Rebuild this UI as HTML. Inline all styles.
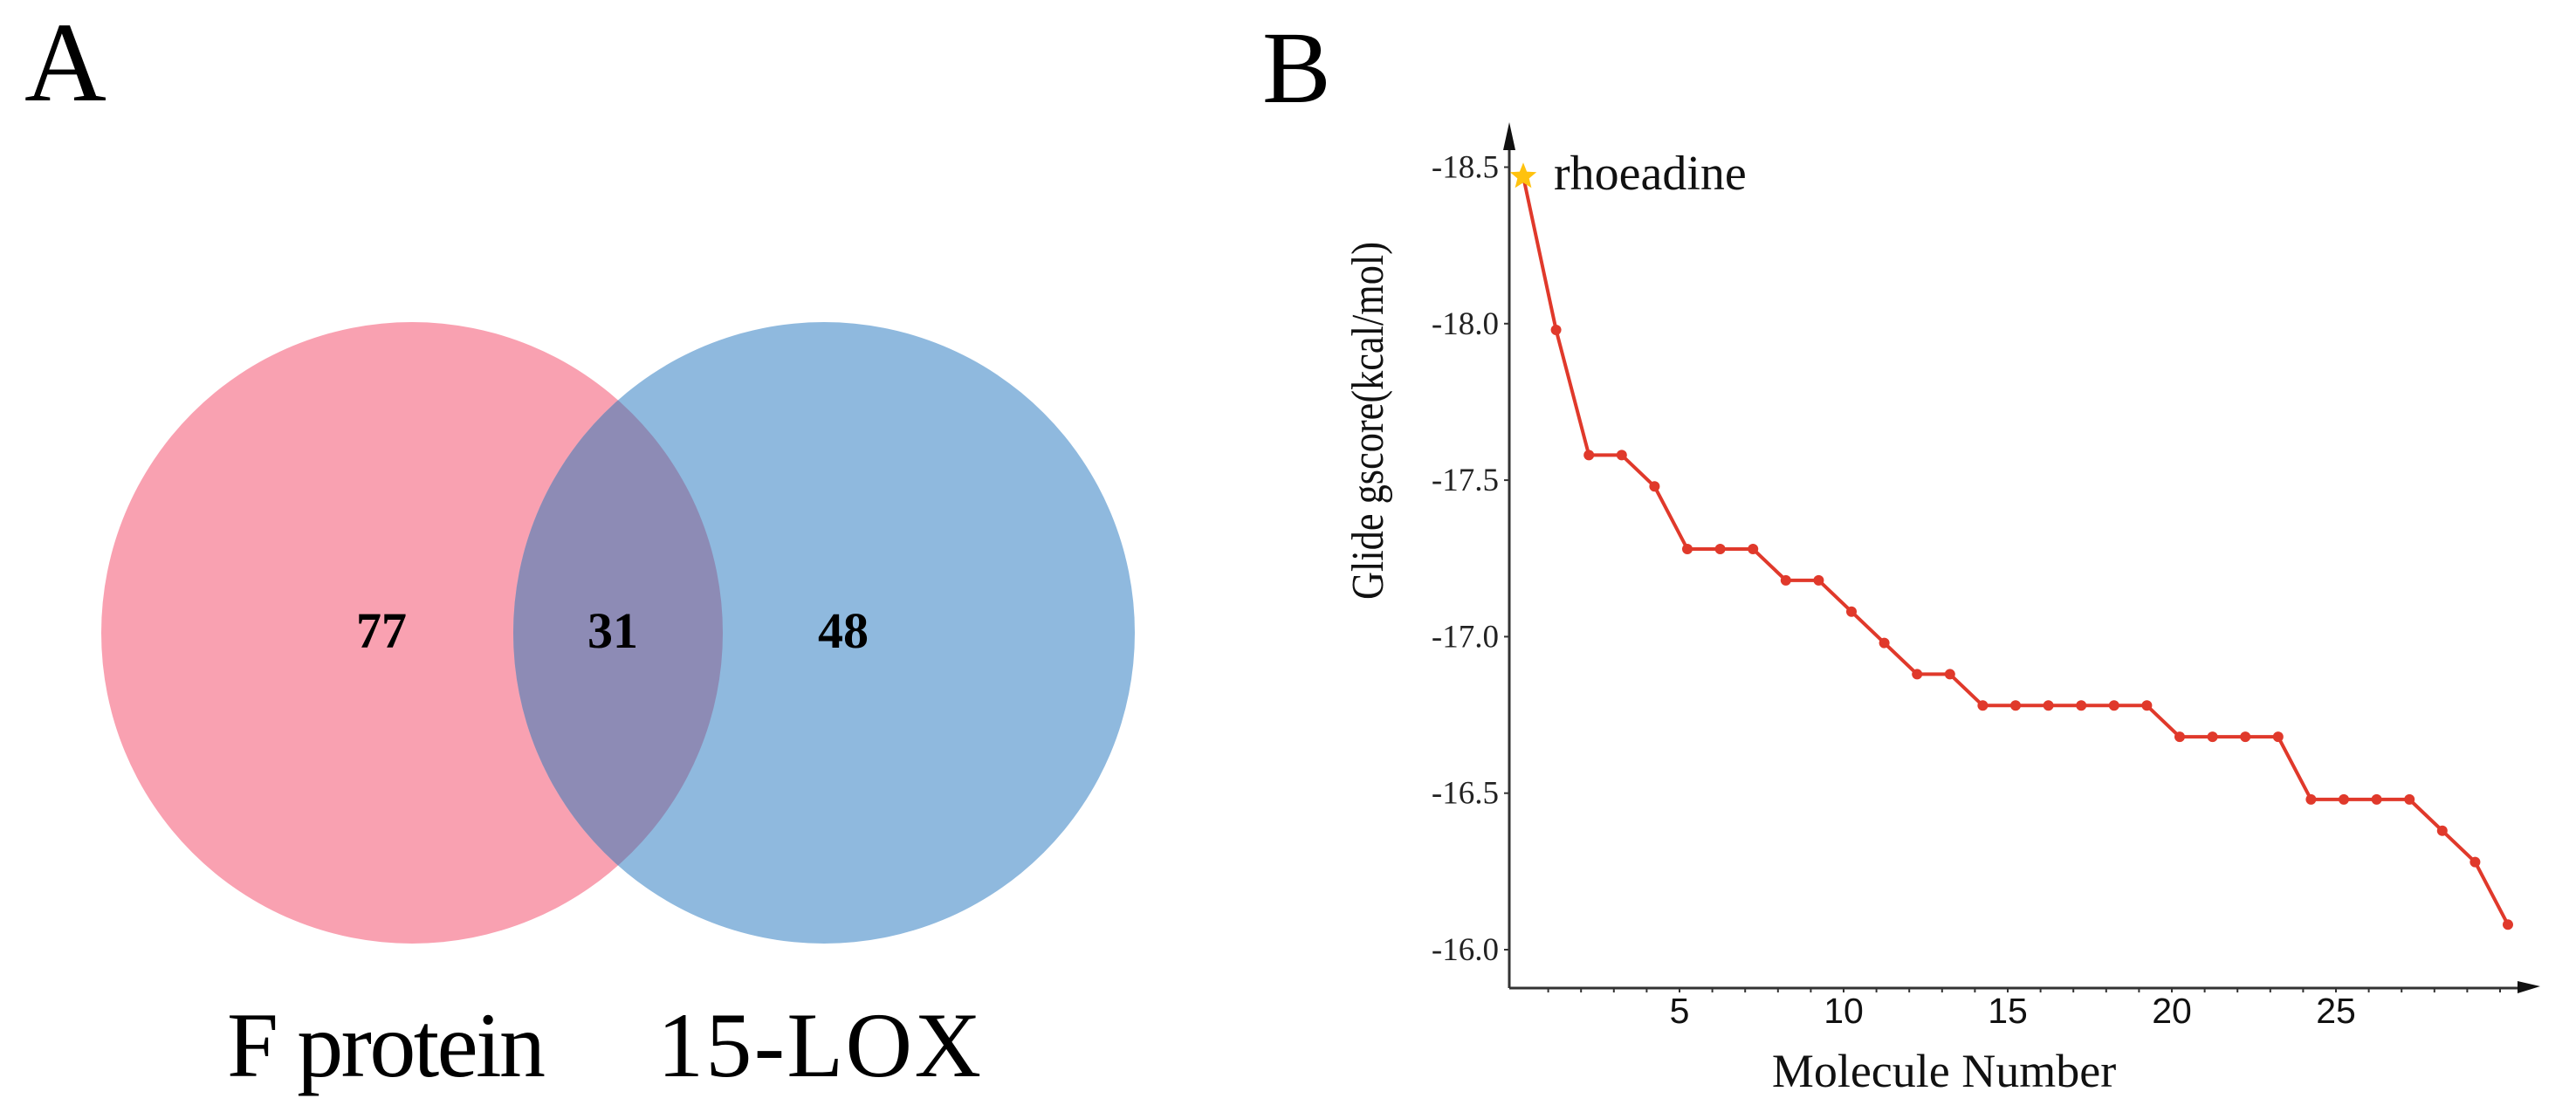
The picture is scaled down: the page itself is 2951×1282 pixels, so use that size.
<!DOCTYPE html>
<html><head><meta charset="utf-8"><style>
html,body{margin:0;padding:0;background:#fff;}
svg{display:block;}
</style></head><body>
<svg id="fig" width="2951" height="1282" viewBox="0 0 2951 1282" xmlns="http://www.w3.org/2000/svg">
  <g>
    <text x="28" y="115" font-family="Liberation Serif, serif" font-size="130">A</text>
    <defs><clipPath id="clipL"><circle cx="472" cy="725" r="356"/></clipPath></defs>
    <circle cx="472" cy="725" r="356" fill="#F9A1B1"/>
    <circle cx="944" cy="725" r="356" fill="#8FB9DE"/>
    <circle cx="944" cy="725" r="356" fill="#8D8BB5" clip-path="url(#clipL)"/>
    <g font-family="Liberation Serif, serif" font-weight="bold" font-size="58" text-anchor="middle">
      <text x="437" y="742">77</text>
      <text x="702" y="742">31</text>
      <text x="966" y="742">48</text>
    </g>
    <g font-family="Liberation Serif, serif" font-size="106">
      <text x="260" y="1233" textLength="365">F protein</text>
      <text x="753" y="1233" textLength="371">15-LOX</text>
    </g>
  </g>
  <g id="panelB">
    <text x="1446" y="117" font-family="Liberation Serif, serif" font-size="118">B</text>
  </g>
</svg>
<script>
const scores = [-18.47,-17.98,-17.58,-17.58,-17.48,-17.28,-17.28,-17.28,-17.18,-17.18,-17.08,-16.98,-16.88,-16.88,-16.78,-16.78,-16.78,-16.78,-16.78,-16.78,-16.68,-16.68,-16.68,-16.68,-16.48,-16.48,-16.48,-16.48,-16.38,-16.28,-16.08];
const yTicks = [-18.5,-18.0,-17.5,-17.0,-16.5,-16.0];
const yTickLabels = ["-18.5","-18.0","-17.5","-17.0","-16.5","-16.0"];
const xTicks = [5,10,15,20,25];
const highlightLabel = "rhoeadine";

const NS = "http://www.w3.org/2000/svg";
const g = document.getElementById('panelB');
const AX = 1729, AY = 1132;
function yScale(v){ return 1088 - (-16 - v) * 358.6; }
function xPoint(i){ return 1745 + 37.6 * i; }
function xTick(k){ return 1736 + 37.6 * k; }
function mk(tag, attrs){ const e = document.createElementNS(NS, tag); for (const k in attrs) e.setAttribute(k, attrs[k]); g.appendChild(e); return e; }

let e;
e = mk('line',{x1:AX,y1:AY,x2:AX,y2:160,stroke:'#333','stroke-width':3});


e = mk('polygon',{points:`${AX-7},172 ${AX+7},172 ${AX},140`,fill:'#111'});


e = mk('line',{x1:AX,y1:AY,x2:2895,y2:AY,stroke:'#333','stroke-width':3});


e = mk('polygon',{points:`2884,${AY-8} 2884,${AY+6} 2910,${AY-2}`,fill:'#111'});



yTicks.forEach((v,i)=>{
  const y = yScale(v);
  let t = mk('line',{x1:AX-6,y1:y,x2:AX,y2:y,stroke:'#333','stroke-width':2});
  
  
  let l = mk('text',{x:1717,y:y+12,'text-anchor':'end','font-family':'Liberation Serif, serif','font-size':37,fill:'#222'});
  l.textContent = yTickLabels[i];
  
  
});
for (let k=1;k<=30;k++){
  const x = xTick(k);
  let t = mk('line',{x1:x,y1:AY,x2:x,y2:AY+5,stroke:'#333','stroke-width':2});
  
  
}
xTicks.forEach(k=>{
  let l = mk('text',{x:xTick(k),y:1172,'text-anchor':'middle','font-family':'Liberation Sans, sans-serif','font-size':41,fill:'#111'});
  l.textContent = String(k);
  
  
});

let xt = mk('text',{x:2227,y:1245,'text-anchor':'middle','font-family':'Liberation Serif, serif','font-size':54,fill:'#111'});
xt.textContent = 'Molecule Number';


let yt = mk('text',{x:0,y:0,'text-anchor':'middle','font-family':'Liberation Serif, serif','font-size':52,fill:'#111',transform:'translate(1584,482) rotate(-90)',textLength:410,lengthAdjust:'spacingAndGlyphs'});
yt.textContent = 'Glide gscore(kcal/mol)';



const pts = scores.map((v,i)=>xPoint(i)+','+yScale(v)).join(' ');
let line = mk('polyline',{points:pts,fill:'none',stroke:'#E0392B','stroke-width':4,'stroke-linejoin':'round'});


scores.forEach((v,i)=>{
  if (i===0) return;
  let c = mk('circle',{cx:xPoint(i),cy:yScale(v),r:6,fill:'#E0392B'});
  
  
});
const sx = xPoint(0), sy = yScale(scores[0]);
let sp = [];
for (let j=0;j<10;j++){ const r = j%2===0?16:7; const a = -Math.PI/2 + j*Math.PI/5; sp.push((sx+r*Math.cos(a)).toFixed(1)+','+(sy+r*Math.sin(a)).toFixed(1)); }
let star = mk('polygon',{points:sp.join(' '),fill:'#FFC20E'});


let hl = mk('text',{x:1780,y:217,'font-family':'Liberation Serif, serif','font-size':56,fill:'#111'});
hl.textContent = highlightLabel;


</script>
</body></html>
